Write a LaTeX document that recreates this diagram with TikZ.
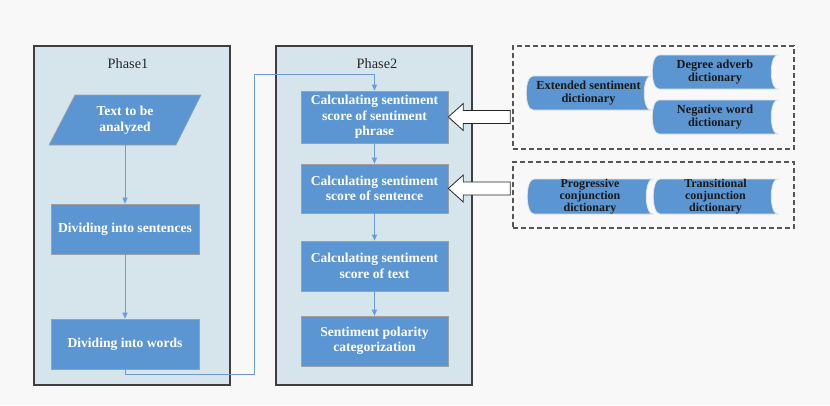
\documentclass[tikz,border=0pt]{standalone}
\usepackage{fontspec}
\setmainfont{Liberation Serif}
\usetikzlibrary{arrows.meta}
\definecolor{bgc}{HTML}{F8F8F8}
\definecolor{panelc}{HTML}{D6E5EC}
\definecolor{boxblue}{HTML}{5B96D2}
\definecolor{connc}{HTML}{6A9BDB}
\definecolor{pborder}{HTML}{3F3F3F}
\definecolor{dashc}{HTML}{555555}
\newcommand{\sdshape}[6]{%
  \filldraw[sdfill] (#2+7,#3) .. controls (#2-2,#3) and (#2-2,#5) .. (#2+7,#5) -- (#4,#5) .. controls (#4-9,#5) and (#4-9,#3) .. (#4,#3) -- cycle;
  \node[sdtext] (#1) at ({(#2+#4)/2},{(#3+#5)/2}) {#6};}
\begin{document}
\begin{tikzpicture}[x=1pt,y=-1pt,
  panelbox/.style={draw=pborder,line width=1.1pt,fill=panelc,inner sep=0pt},
  phaselabel/.style={font=\fontsize{14.3}{16}\selectfont,text=black!85,inner sep=0pt},
  procbox/.style={draw=gray!75,line width=0.6pt,fill=boxblue,text=white,font=\bfseries\fontsize{13.6}{15.5}\selectfont,align=center,minimum width=147pt,minimum height=50pt,inner sep=2pt},
  sdfill/.style={fill=boxblue,draw=white!80!gray,line width=0.8pt},
  sdtext/.style={text=black!90,font=\bfseries\fontsize{12.3}{13.5}\selectfont,align=center,inner sep=0pt},
  sdtextb/.style={text=black!90,font=\bfseries\fontsize{12}{11.7}\selectfont,align=center,inner sep=0pt},
  dashbox/.style={draw=dashc,line width=1.2pt,dash pattern=on 5pt off 3pt,inner sep=0pt},
  conn/.style={draw=connc,line width=0.9pt,-{Triangle[length=6pt,width=5pt]}},
  hollow/.style={draw=black!85,fill=white,line width=0.8pt,line join=miter}
]
\fill[bgc] (0,0) rectangle (830,405);
\useasboundingbox (0,0) rectangle (830,405);

% panels
\node[panelbox,minimum width=196pt,minimum height=339pt] (panel1) at (132,215.5) {};
\node[panelbox,minimum width=196pt,minimum height=339pt] (panel2) at (374,215.5) {};
\node[phaselabel] (ph1) at (128,64) {Phase1};
\node[phaselabel] (ph2) at (377,64) {Phase2};

% phase 1
\filldraw[draw=gray!75,line width=0.6pt,fill=boxblue] (75,95) -- (201,95) -- (176,145) -- (49,145) -- cycle;
\node[procbox,draw=none,fill=none,minimum width=100pt] (input) at (125,120) {Text to be\\analyzed};
\node[procbox,minimum width=148pt] (sent) at (125,229) {Dividing into sentences};
\node[procbox,minimum width=148pt] (words) at (125,344) {Dividing into words};

% phase 2
\node[procbox,minimum height=52pt] (calc1) at (374.5,117) {Calculating sentiment\\score of sentiment\\phrase};
\node[procbox,minimum height=49pt] (calc2) at (374.5,188.5) {Calculating sentiment\\score of sentence};
\node[procbox] (calc3) at (374.5,266) {Calculating sentiment\\score of text};
\node[procbox] (polar) at (374.5,341) {Sentiment polarity\\categorization};

% connectors
\draw[conn] (input.south) -- (sent.north);
\draw[conn] (sent.south) -- (words.north);
\draw[conn] (words.south) -- ++(0,5.5) -| (254,74) -| (calc1.north);
\draw[conn] (calc1.south) -- (calc2.north);
\draw[conn] (calc2.south) -- (calc3.north);
\draw[conn] (calc3.south) -- (polar.north);

% dashed groups
\node[dashbox,minimum width=281pt,minimum height=103pt] (dict1) at (653.5,97.5) {};
\node[dashbox,minimum width=281pt,minimum height=66pt] (dict2) at (653.5,195) {};

\sdshape{ext}{526}{76}{651}{110}{Extended sentiment\\dictionary}
\sdshape{deg}{652}{55}{778}{89}{Degree adverb\\dictionary}
\sdshape{neg}{652}{100}{778}{134}{Negative word\\dictionary}
\filldraw[sdfill] (527+7,179) .. controls (527-2,179) and (527-2,214) .. (527+7,214) -- (653,214) .. controls (653-9,214) and (653-9,179) .. (653,179) -- cycle;
\node[sdtextb] (prog) at (590,196.5) {Progressive\\conjunction\\dictionary};
\filldraw[sdfill] (653+7,179) .. controls (653-2,179) and (653-2,214) .. (653+7,214) -- (778,214) .. controls (778-9,214) and (778-9,179) .. (778,179) -- cycle;
\node[sdtextb] (trans) at (715.5,196.5) {Transitional\\conjunction\\dictionary};

% hollow arrows
\draw[hollow] (calc1.east) -- ++(15,-13.5) -- ++(0,7) -- ++(47,0) -- ++(0,13) -- ++(-47,0) -- ++(0,7) -- cycle;
\draw[hollow] (calc2.east) -- ++(15,-13.5) -- ++(0,7) -- ++(47,0) -- ++(0,13) -- ++(-47,0) -- ++(0,7) -- cycle;
\end{tikzpicture}
\end{document}
